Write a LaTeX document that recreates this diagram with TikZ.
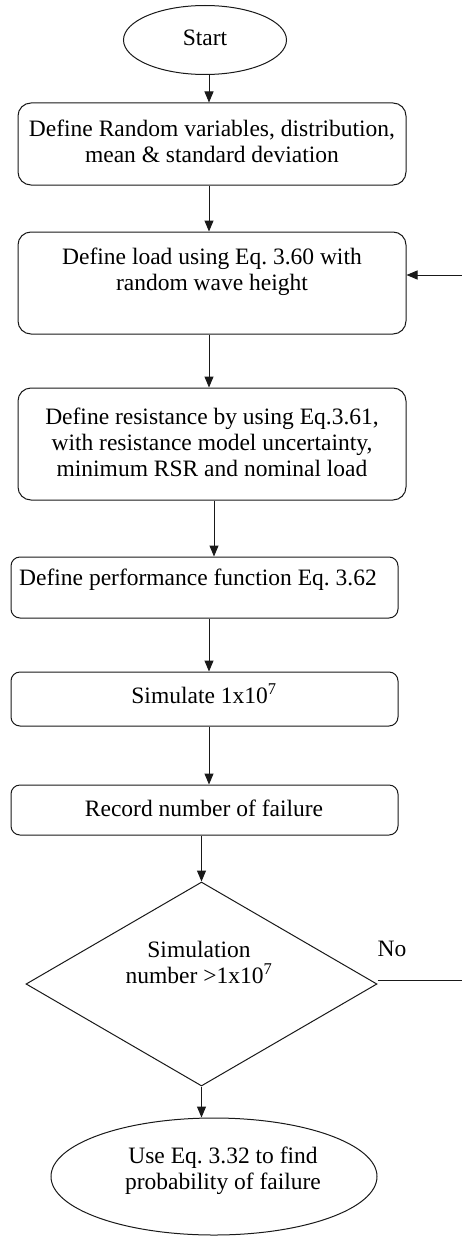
\documentclass[tikz,border=0pt]{standalone}
\usepackage{fontspec}
\setmainfont{Liberation Serif}
\usetikzlibrary{arrows.meta,shapes.geometric}
\frenchspacing

\tikzset{
  base/.style={draw=black!90, line width=1pt, inner sep=0pt},
  stepbox/.style={base, rectangle, rounded corners=13pt},
  smallbox/.style={base, rectangle, rounded corners=9pt},
  oval/.style={base, ellipse},
  decision/.style={base, diamond},
  txt/.style={align=center, inner sep=0pt, text=black,
    font=\fontsize{23.5pt}{26pt}\selectfont\frenchspacing},
  flow/.style={draw=black!90, line width=1pt, -{Triangle[length=11pt,width=9pt]}},
  plain/.style={draw=black!90, line width=1pt}
}

\begin{document}
\begin{tikzpicture}[x=1pt,y=-1pt]
\useasboundingbox (0,0) rectangle (462,1236);

% shapes
\node[oval, minimum width=163pt, minimum height=69pt] (start) at (205,40) {};
\node[txt] (tstart) at (205,38) {Start};

\node[stepbox, minimum width=388pt, minimum height=82pt] (b1) at (212,144) {};
\node[txt] (t1) at (212,141) {Define Random variables, distribution,\\mean \& standard deviation};

\node[stepbox, minimum width=388pt, minimum height=102pt] (b2) at (212,283) {};
\node[txt] (t2) at (212,272) {Define load using Eq. 3.60 with\\random wave height};

\node[stepbox, minimum width=388pt, minimum height=112pt] (b3) at (212,444) {};
\node[txt] (t3) at (212,442) {Define resistance by using Eq.3.61,\\with resistance model uncertainty,\\minimum RSR and nominal load};

\node[smallbox, minimum width=387pt, minimum height=61pt] (b4) at (204.5,587.5) {};
\node[txt] (t4) at (198,580) {Define performance function Eq. 3.62};

\node[smallbox, minimum width=387pt, minimum height=54pt] (b5) at (204.5,699) {};
\node[txt] (t5) at (204,694) {Simulate 1x10\textsuperscript{7}};

\node[smallbox, minimum width=387pt, minimum height=50pt] (b6) at (204.5,810) {};
\node[txt] (t6) at (204,808) {Record number of failure};

\node[decision, minimum width=351pt, minimum height=204pt] (dec) at (201.5,984) {};
\node[txt] (tdec) at (199,962) {Simulation\\number >1x10\textsuperscript{7}};
\node[txt] (tno) at (392,949) {No};

\node[oval, minimum width=326pt, minimum height=117pt] (stop) at (214,1176.5) {};
\node[txt] (tstop) at (223,1171) {Use Eq. 3.32 to find\\probability of failure};

% connector guides
\coordinate (xa) at (209,0);
\coordinate (xb) at (214,0);
\coordinate (xc) at (201.5,0);
\coordinate (ret) at (462,275);
\coordinate (noend) at (462,980);

% connectors
\draw[flow] (xa |- start.south) -- (xa |- b1.north);
\draw[flow] (xa |- b1.south) -- (xa |- b2.north);
\draw[flow] (xa |- b2.south) -- (xa |- b3.north);
\draw[flow] (xb |- b3.south) -- (xb |- b4.north);
\draw[flow] (xa |- b4.south) -- (xa |- b5.north);
\draw[flow] (xa |- b5.south) -- (xa |- b6.north);
\draw[flow] (xc |- b6.south) -- (dec.north);
\draw[flow] (dec.south) -- (xc |- stop.north);
\draw[plain] (dec.east |- noend) -- (noend);
\draw[flow] (ret) -- (ret -| b2.east);
\end{tikzpicture}
\end{document}
